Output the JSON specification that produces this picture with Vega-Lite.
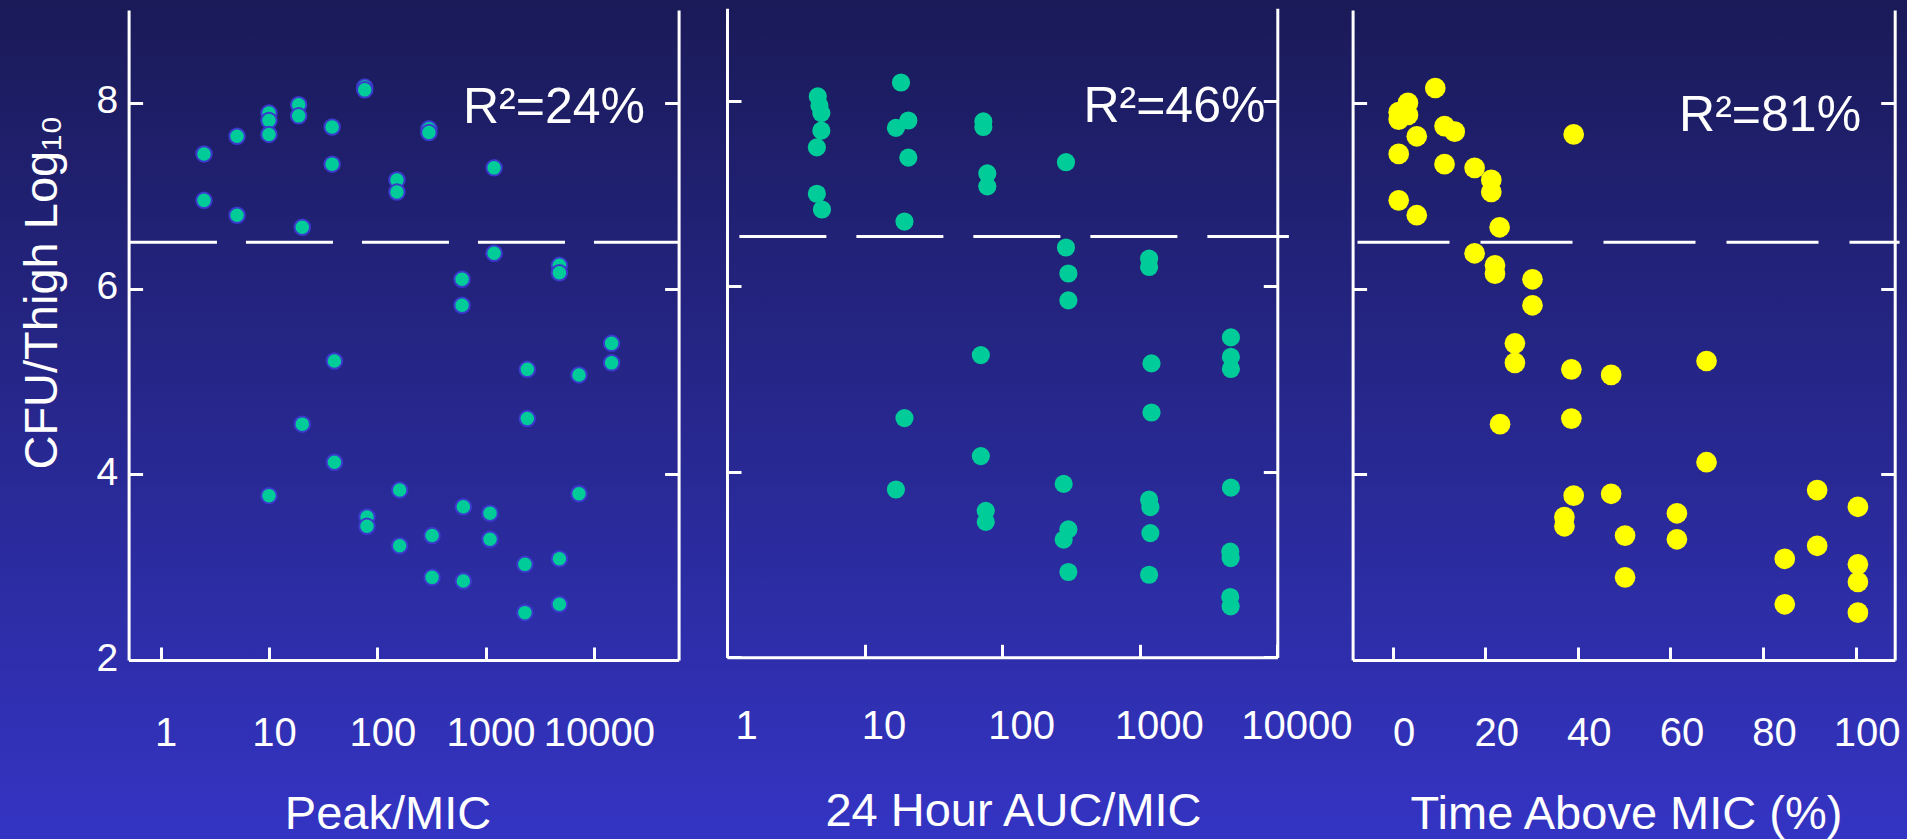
{
  "$schema": "https://vega.github.io/schema/vega-lite/v6.json",
  "width": 1907,
  "height": 839,
  "autosize": {"type": "none"},
  "padding": 0,
  "background": "#3434c4",
  "config": {
    "font": "Liberation Sans",
    "view": {
      "stroke": null,
      "fill": {"gradient": "linear", "x1": 0, "y1": 0, "x2": 0, "y2": 1,
        "stops": [{"offset": 0, "color": "#1a1a58"}, {"offset": 1, "color": "#3434c4"}]}
    },
    "axis": {
      "grid": false,
      "domainColor": "#ffffff", "domainWidth": 3,
      "tickColor": "#ffffff", "tickWidth": 3,
      "labelColor": "#ffffff", "labelFont": "Liberation Sans", "labelFontSize": 39,
      "labelFlush": false, "labelOverlap": false,
      "titleColor": "#ffffff", "titleFont": "Liberation Sans", "titleFontSize": 47, "titleFontWeight": "normal"
    }
  },
  "datasets": {
    "peak": [
      {"peak_mic": 2.51, "cfu": 7.45}, {"peak_mic": 2.51, "cfu": 6.95}, {"peak_mic": 5.07, "cfu": 7.64}, {"peak_mic": 5.07, "cfu": 6.79},
      {"peak_mic": 10, "cfu": 7.89}, {"peak_mic": 10, "cfu": 7.81}, {"peak_mic": 10, "cfu": 7.66}, {"peak_mic": 18.8, "cfu": 7.98},
      {"peak_mic": 18.8, "cfu": 7.86}, {"peak_mic": 20.3, "cfu": 6.66}, {"peak_mic": 38.3, "cfu": 7.74}, {"peak_mic": 38.3, "cfu": 7.34},
      {"peak_mic": 76.6, "cfu": 8.17}, {"peak_mic": 76.6, "cfu": 8.14}, {"peak_mic": 152, "cfu": 7.17}, {"peak_mic": 152, "cfu": 7.04},
      {"peak_mic": 300, "cfu": 7.72}, {"peak_mic": 300, "cfu": 7.68}, {"peak_mic": 1200, "cfu": 7.30}, {"peak_mic": 1200, "cfu": 6.38},
      {"peak_mic": 607, "cfu": 6.10}, {"peak_mic": 607, "cfu": 5.82}, {"peak_mic": 4810, "cfu": 6.25}, {"peak_mic": 4810, "cfu": 6.17},
      {"peak_mic": 14600, "cfu": 5.41}, {"peak_mic": 14600, "cfu": 5.20}, {"peak_mic": 40.2, "cfu": 5.22}, {"peak_mic": 2430, "cfu": 5.13},
      {"peak_mic": 7300, "cfu": 5.07}, {"peak_mic": 20.3, "cfu": 4.54}, {"peak_mic": 2430, "cfu": 4.60}, {"peak_mic": 40.2, "cfu": 4.13},
      {"peak_mic": 10, "cfu": 3.77}, {"peak_mic": 161, "cfu": 3.83}, {"peak_mic": 80.4, "cfu": 3.54}, {"peak_mic": 80.4, "cfu": 3.44},
      {"peak_mic": 161, "cfu": 3.23}, {"peak_mic": 321, "cfu": 3.34}, {"peak_mic": 321, "cfu": 2.89}, {"peak_mic": 624, "cfu": 3.65},
      {"peak_mic": 624, "cfu": 2.85}, {"peak_mic": 1100, "cfu": 3.58}, {"peak_mic": 1100, "cfu": 3.30}, {"peak_mic": 2310, "cfu": 3.03},
      {"peak_mic": 2310, "cfu": 2.51}, {"peak_mic": 4810, "cfu": 3.09}, {"peak_mic": 4810, "cfu": 2.60}, {"peak_mic": 7300, "cfu": 3.79}
    ],
    "auc": [
      {"auc_mic": 4.57, "cfu": 8.05}, {"auc_mic": 4.7, "cfu": 7.95}, {"auc_mic": 4.85, "cfu": 7.87}, {"auc_mic": 4.85, "cfu": 7.68},
      {"auc_mic": 4.5, "cfu": 7.50}, {"auc_mic": 4.5, "cfu": 7.00}, {"auc_mic": 4.9, "cfu": 6.83},
      {"auc_mic": 18.4, "cfu": 8.20}, {"auc_mic": 20.8, "cfu": 7.79}, {"auc_mic": 16.9, "cfu": 7.71}, {"auc_mic": 20.8, "cfu": 7.39},
      {"auc_mic": 19.5, "cfu": 6.70}, {"auc_mic": 19.5, "cfu": 4.58}, {"auc_mic": 16.9, "cfu": 3.81},
      {"auc_mic": 73, "cfu": 7.78}, {"auc_mic": 73, "cfu": 7.72}, {"auc_mic": 78, "cfu": 7.22}, {"auc_mic": 78, "cfu": 7.08},
      {"auc_mic": 70, "cfu": 5.26}, {"auc_mic": 70, "cfu": 4.17}, {"auc_mic": 76, "cfu": 3.58}, {"auc_mic": 76, "cfu": 3.46},
      {"auc_mic": 291, "cfu": 7.34}, {"auc_mic": 291, "cfu": 6.42}, {"auc_mic": 303, "cfu": 6.14}, {"auc_mic": 303, "cfu": 5.85},
      {"auc_mic": 280, "cfu": 3.87}, {"auc_mic": 303, "cfu": 3.38}, {"auc_mic": 280, "cfu": 3.27}, {"auc_mic": 303, "cfu": 2.92},
      {"auc_mic": 1170, "cfu": 6.30}, {"auc_mic": 1170, "cfu": 6.21}, {"auc_mic": 1218, "cfu": 5.17}, {"auc_mic": 1218, "cfu": 4.64},
      {"auc_mic": 1170, "cfu": 3.70}, {"auc_mic": 1195, "cfu": 3.62}, {"auc_mic": 1195, "cfu": 3.34}, {"auc_mic": 1170, "cfu": 2.89},
      {"auc_mic": 4600, "cfu": 5.45}, {"auc_mic": 4600, "cfu": 5.24}, {"auc_mic": 4600, "cfu": 5.11}, {"auc_mic": 4600, "cfu": 3.83},
      {"auc_mic": 4550, "cfu": 3.14}, {"auc_mic": 4580, "cfu": 3.07}, {"auc_mic": 4550, "cfu": 2.65}, {"auc_mic": 4580, "cfu": 2.55}
    ],
    "tam": [
      {"time_above_mic": 9.2, "cfu": 8.16}, {"time_above_mic": 3.3, "cfu": 8.00}, {"time_above_mic": 1.3, "cfu": 7.90}, {"time_above_mic": 1.3, "cfu": 7.82},
      {"time_above_mic": 3.3, "cfu": 7.87}, {"time_above_mic": 11.2, "cfu": 7.75}, {"time_above_mic": 13.4, "cfu": 7.69}, {"time_above_mic": 5.2, "cfu": 7.64},
      {"time_above_mic": 39.1, "cfu": 7.66}, {"time_above_mic": 1.3, "cfu": 7.45}, {"time_above_mic": 11.2, "cfu": 7.34}, {"time_above_mic": 17.7, "cfu": 7.30},
      {"time_above_mic": 21.3, "cfu": 7.17}, {"time_above_mic": 21.3, "cfu": 7.04}, {"time_above_mic": 1.3, "cfu": 6.95}, {"time_above_mic": 5.2, "cfu": 6.79},
      {"time_above_mic": 23.1, "cfu": 6.66}, {"time_above_mic": 17.7, "cfu": 6.38}, {"time_above_mic": 22.1, "cfu": 6.25}, {"time_above_mic": 22.1, "cfu": 6.16},
      {"time_above_mic": 30.2, "cfu": 6.10}, {"time_above_mic": 30.2, "cfu": 5.82}, {"time_above_mic": 26.4, "cfu": 5.41}, {"time_above_mic": 26.4, "cfu": 5.20},
      {"time_above_mic": 38.6, "cfu": 5.13}, {"time_above_mic": 47.2, "cfu": 5.07}, {"time_above_mic": 67.8, "cfu": 5.22}, {"time_above_mic": 23.2, "cfu": 4.54},
      {"time_above_mic": 38.6, "cfu": 4.60}, {"time_above_mic": 67.8, "cfu": 4.13}, {"time_above_mic": 39.1, "cfu": 3.77}, {"time_above_mic": 47.2, "cfu": 3.79},
      {"time_above_mic": 37.1, "cfu": 3.54}, {"time_above_mic": 37.1, "cfu": 3.44}, {"time_above_mic": 50.2, "cfu": 3.34}, {"time_above_mic": 50.2, "cfu": 2.89},
      {"time_above_mic": 61.4, "cfu": 3.58}, {"time_above_mic": 61.4, "cfu": 3.30}, {"time_above_mic": 91.7, "cfu": 3.83}, {"time_above_mic": 91.7, "cfu": 3.23},
      {"time_above_mic": 84.7, "cfu": 3.09}, {"time_above_mic": 84.7, "cfu": 2.60}, {"time_above_mic": 100.5, "cfu": 3.65}, {"time_above_mic": 100.5, "cfu": 3.03},
      {"time_above_mic": 100.5, "cfu": 2.84}, {"time_above_mic": 100.5, "cfu": 2.51}
    ]
  },
  "layer": [
    {
      "data": {"name": "peak"},
      "mark": {"type": "circle", "size": 240, "opacity": 1, "color": "#00cc99", "stroke": "#3a3acc", "strokeWidth": 2},
      "encoding": {
        "x": {"field": "peak_mic", "type": "quantitative",
          "scale": {"type": "log", "domain": [0.505, 60700], "range": [128.6, 678.6], "nice": false},
          "axis": {"orient": "bottom", "offset": -179, "values": [1, 10, 100, 1000, 10000], "format": "d",
            "tickSize": -13, "labelFontSize": 40, "labelPadding": 66.5, "labelOffset": 5,
            "title": "Peak/MIC", "titleBaseline": "alphabetic", "titleY": 168, "titleX": 387.5, "titleAlign": "center"}},
        "y": {"field": "cfu", "type": "quantitative",
          "scale": {"domain": [2, 9], "range": [660, 10], "nice": false, "zero": false},
          "axis": {"orient": "left", "offset": -128.6, "values": [2, 4, 6, 8], "tickSize": -14, "labelPadding": 25, "labelOffset": -2,
            "title": "CFU/Thigh Log₁₀", "titleAngle": 270, "titleBaseline": "alphabetic",
            "titleAlign": "center", "titleX": -72.6, "titleY": 292}}
      }
    },
    {
      "data": {"values": [{"stasis": 6.5}]},
      "mark": {"type": "rule", "color": "#ffffff", "strokeWidth": 3, "strokeDash": [87, 29]},
      "encoding": {
        "x": {"datum": 0.52, "type": "quantitative",
          "scale": {"type": "log", "domain": [0.505, 60700], "range": [128.6, 678.6], "nice": false}, "axis": null},
        "x2": {"datum": 60700},
        "y": {"field": "stasis", "type": "quantitative",
          "scale": {"domain": [2, 9], "range": [660, 10], "nice": false, "zero": false},
          "axis": {"orient": "right", "offset": -1228.4, "values": [2, 4, 6, 8], "tickSize": -14, "labels": false, "title": null}}
      }
    },
    {
      "data": {"values": [{"r2": "R²=24%"}]},
      "mark": {"type": "text", "align": "right", "baseline": "alphabetic", "fontSize": 50, "color": "#ffffff", "font": "Liberation Sans"},
      "encoding": {
        "text": {"field": "r2"},
        "x": {"datum": 29700, "type": "quantitative",
          "scale": {"type": "log", "domain": [0.505, 60700], "range": [128.6, 678.6], "nice": false}, "axis": null},
        "y": {"datum": 7.786, "type": "quantitative",
          "scale": {"domain": [2, 9], "range": [660, 10], "nice": false, "zero": false}, "axis": null}
      }
    },
    {
      "data": {"name": "auc"},
      "mark": {"type": "circle", "size": 330, "opacity": 1, "color": "#00cc99"},
      "encoding": {
        "x": {"field": "auc_mic", "type": "quantitative",
          "scale": {"type": "log", "domain": [1, 10000], "range": [727, 1277.3], "nice": false},
          "axis": {"orient": "bottom", "offset": -181.7, "values": [1, 10, 100, 1000, 10000], "format": "d",
            "tickSize": -13, "labelFontSize": 40, "labelPadding": 62.5, "labelOffset": 19,
            "title": "24 Hour AUC/MIC", "titleBaseline": "alphabetic", "titleY": 168, "titleX": 1013, "titleAlign": "center"}},
        "y": {"field": "cfu", "type": "quantitative",
          "scale": {"domain": [2, 9], "range": [657.3, 8.3], "nice": false, "zero": false},
          "axis": {"orient": "left", "offset": -727, "values": [2, 4, 6, 8], "tickSize": -14, "labels": false, "title": null}}
      }
    },
    {
      "data": {"values": [{"stasis": 6.54}]},
      "mark": {"type": "rule", "color": "#ffffff", "strokeWidth": 3, "strokeDash": [87, 30]},
      "encoding": {
        "x": {"datum": 1.23, "type": "quantitative",
          "scale": {"type": "log", "domain": [1, 10000], "range": [727, 1277.3], "nice": false}, "axis": null},
        "x2": {"datum": 12140},
        "y": {"field": "stasis", "type": "quantitative",
          "scale": {"domain": [2, 9], "range": [657.3, 8.3], "nice": false, "zero": false},
          "axis": {"orient": "right", "offset": -629.7, "values": [2, 4, 6, 8], "tickSize": -14, "labels": false, "title": null}}
      }
    },
    {
      "data": {"values": [{"r2": "R²=46%"}]},
      "mark": {"type": "text", "align": "right", "baseline": "alphabetic", "fontSize": 50, "color": "#ffffff", "font": "Liberation Sans"},
      "encoding": {
        "text": {"field": "r2"},
        "x": {"datum": 8200, "type": "quantitative",
          "scale": {"type": "log", "domain": [1, 10000], "range": [727, 1277.3], "nice": false}, "axis": null},
        "y": {"datum": 7.777, "type": "quantitative",
          "scale": {"domain": [2, 9], "range": [657.3, 8.3], "nice": false, "zero": false}, "axis": null}
      }
    },
    {
      "data": {"name": "tam"},
      "mark": {"type": "circle", "size": 428, "opacity": 1, "color": "#ffff00"},
      "encoding": {
        "x": {"field": "time_above_mic", "type": "quantitative",
          "scale": {"domain": [-8.66, 108.45], "range": [1352.6, 1894.7], "nice": false, "zero": false},
          "axis": {"orient": "bottom", "offset": -179, "values": [0, 20, 40, 60, 80, 100],
            "tickSize": -13, "labelFontSize": 40, "labelPadding": 66.5, "labelOffset": 11,
            "title": "Time Above MIC (%)", "titleBaseline": "alphabetic", "titleY": 168, "titleX": 1626, "titleAlign": "center"}},
        "y": {"field": "cfu", "type": "quantitative",
          "scale": {"domain": [2, 9], "range": [660, 10], "nice": false, "zero": false},
          "axis": {"orient": "left", "offset": -1352.6, "values": [2, 4, 6, 8], "tickSize": -14, "labels": false, "title": null}}
      }
    },
    {
      "data": {"values": [{"stasis": 6.5}]},
      "mark": {"type": "rule", "color": "#ffffff", "strokeWidth": 3, "strokeDash": [92, 31]},
      "encoding": {
        "x": {"datum": -7.6, "type": "quantitative",
          "scale": {"domain": [-8.66, 108.45], "range": [1352.6, 1894.7], "nice": false, "zero": false}, "axis": null},
        "x2": {"datum": 109.5},
        "y": {"field": "stasis", "type": "quantitative",
          "scale": {"domain": [2, 9], "range": [660, 10], "nice": false, "zero": false},
          "axis": {"orient": "right", "offset": -12.3, "values": [2, 4, 6, 8], "tickSize": -14, "labels": false, "title": null}}
      }
    },
    {
      "data": {"values": [{"r2": "R²=81%"}]},
      "mark": {"type": "text", "align": "right", "baseline": "alphabetic", "fontSize": 50, "color": "#ffffff", "font": "Liberation Sans"},
      "encoding": {
        "text": {"field": "r2"},
        "x": {"datum": 101.2, "type": "quantitative",
          "scale": {"domain": [-8.66, 108.45], "range": [1352.6, 1894.7], "nice": false, "zero": false}, "axis": null},
        "y": {"datum": 7.70, "type": "quantitative",
          "scale": {"domain": [2, 9], "range": [660, 10], "nice": false, "zero": false}, "axis": null}
      }
    }
  ],
  "resolve": {"scale": {"x": "independent", "y": "independent"}}
}
